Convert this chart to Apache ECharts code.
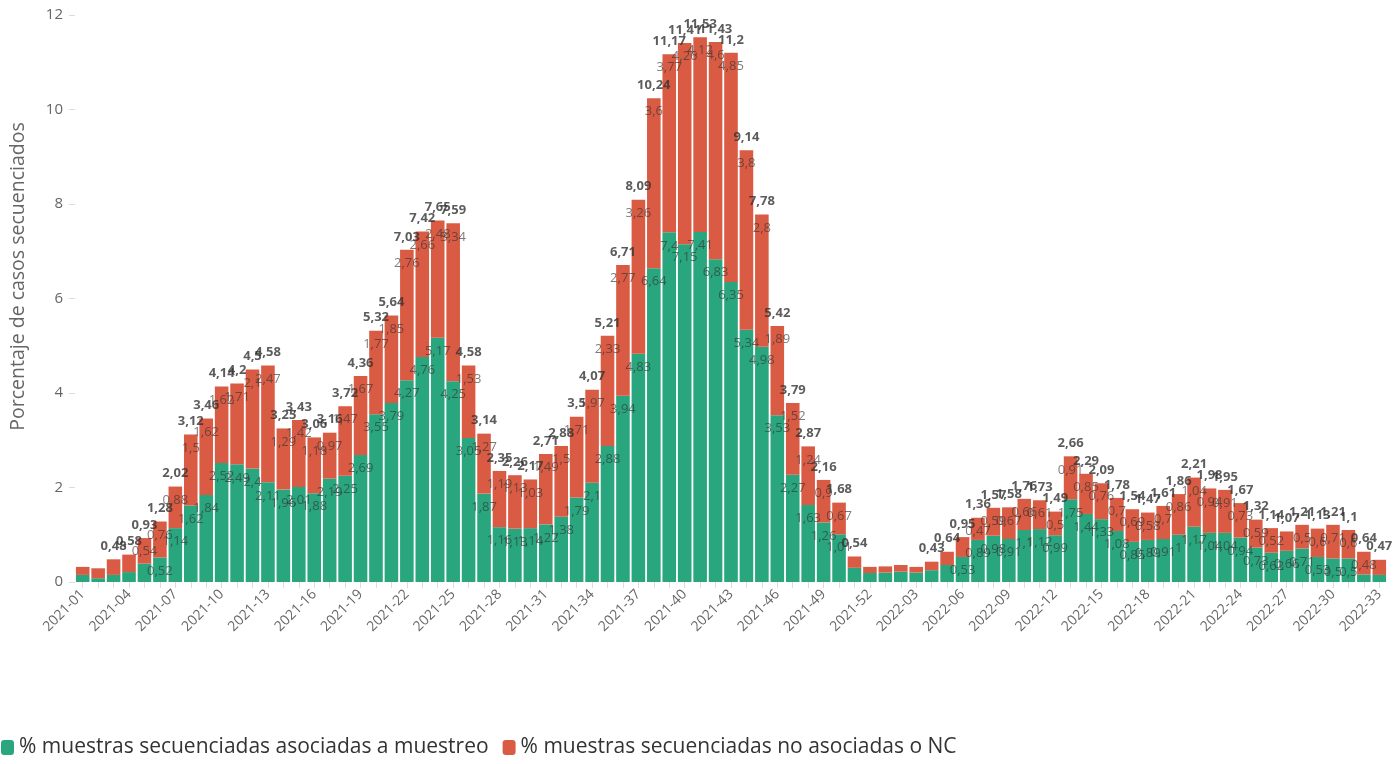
<!DOCTYPE html>
<html>
<head>
<meta charset="utf-8">
<script src="https://cdn.jsdelivr.net/npm/echarts@6/dist/echarts.min.js"></script>
<style>
html,body{margin:0;padding:0;background:#fff;}
#chart{width:1400px;height:764px;}
</style>
</head>
<body>
<div id="chart"></div>
<script>
// Weeks 2021-01 .. 2022-33
const weeks = [];
for (let w = 1; w <= 52; w++) weeks.push('2021-' + String(w).padStart(2, '0'));
for (let w = 1; w <= 33; w++) weeks.push('2022-' + String(w).padStart(2, '0'));

const seriesNames = ['% muestras secuenciadas asociadas a muestreo', '% muestras secuenciadas no asociadas o NC'];

const asociadas = [
  0.15, 0.08, 0.15, 0.21, 0.39, 0.52, 1.14, 1.62, 1.84, 2.52,
  2.49, 2.4, 2.11, 1.96, 2.01, 1.88, 2.19, 2.25, 2.69, 3.55,
  3.79, 4.27, 4.76, 5.17, 4.25, 3.05, 1.87, 1.16, 1.13, 1.14,
  1.22, 1.38, 1.79, 2.1, 2.88, 3.94, 4.83, 6.64, 7.4, 7.15,
  7.41, 6.83, 6.35, 5.34, 4.98, 3.53, 2.27, 1.63, 1.26, 1.01,
  0.30, 0.19, 0.20, 0.22, 0.20, 0.25, 0.36, 0.53, 0.89, 0.98,
  0.91, 1.1, 1.12, 0.99, 1.75, 1.44, 1.33, 1.08, 0.85, 0.89,
  0.91, 1, 1.17, 1.04, 1.04, 0.94, 0.73, 0.62, 0.66, 0.71,
  0.53, 0.5, 0.5, 0.16, 0.15
];

const noAsociadas = [
  0.17, 0.21, 0.33, 0.37, 0.54, 0.76, 0.88, 1.5, 1.62, 1.62,
  1.71, 2.1, 2.47, 1.29, 1.42, 1.18, 0.97, 1.47, 1.67, 1.77,
  1.85, 2.76, 2.66, 2.48, 3.34, 1.53, 1.27, 1.19, 1.13, 1.03,
  1.49, 1.5, 1.71, 1.97, 2.33, 2.77, 3.26, 3.6, 3.77, 4.26,
  4.12, 4.6, 4.85, 3.8, 2.8, 1.89, 1.52, 1.24, 0.9, 0.67,
  0.24, 0.13, 0.13, 0.14, 0.12, 0.18, 0.28, 0.42, 0.47, 0.59,
  0.67, 0.66, 0.61, 0.5, 0.91, 0.85, 0.76, 0.7, 0.69, 0.58,
  0.7, 0.86, 1.04, 0.94, 0.91, 0.73, 0.59, 0.52, 0.41, 0.5,
  0.6, 0.71, 0.6, 0.48, 0.32
];

const yTicks = [0, 2, 4, 6, 8, 10, 12];

function fmt(v) {
  return String(parseFloat(v.toFixed(2))).replace('.', ',');
}
const totals = asociadas.map((g, i) => parseFloat((g + noAsociadas[i]).toFixed(2)));

const FONT = 'Open Sans';
const innerLabel = {
  show: true,
  position: 'insideTop',
  distance: 7,
  color: 'rgba(55,55,55,0.66)',
  fontFamily: FONT,
  fontSize: 13,
  formatter: p => (p.value >= 0.45 ? fmt(p.value) : '')
};

const chart = echarts.init(document.getElementById('chart'), null, { renderer: 'canvas' });
chart.setOption({
  backgroundColor: '#ffffff',
  animation: false,
  textStyle: { fontFamily: FONT },
  grid: { left: 74, right: 13, top: 15, bottom: 182, containLabel: false },
  legend: {
    data: seriesNames,
    left: -4,
    bottom: 1,
    icon: 'roundRect',
    itemWidth: 13,
    itemHeight: 15,
    itemGap: 14,
    textStyle: { fontFamily: FONT, fontSize: 21, color: '#333' }
  },
  xAxis: {
    type: 'category',
    data: weeks,
    axisLine: { show: false },
    axisTick: { show: true, alignWithLabel: true, interval: 0, length: 6, lineStyle: { color: '#ddd' } },
    axisLabel: { interval: 2, rotate: 45, color: '#666', fontFamily: FONT, fontSize: 14, margin: 10 }
  },
  yAxis: {
    type: 'value',
    min: 0,
    max: yTicks[yTicks.length - 1],
    interval: 2,
    name: 'Porcentaje de casos secuenciados',
    nameLocation: 'middle',
    nameGap: 47,
    nameTextStyle: { color: '#666', fontFamily: FONT, fontSize: 19.5, padding: [0, 0, 0, 44] },
    axisLine: { show: false },
    axisTick: { show: true, length: 6, lineStyle: { color: '#ddd' } },
    splitLine: { show: false },
    axisLabel: { color: '#666', fontFamily: FONT, fontSize: 15, margin: 12 }
  },
  series: [
    {
      name: seriesNames[0],
      type: 'bar',
      stack: 'total',
      data: asociadas,
      barCategoryGap: '12%',
      itemStyle: { color: '#29a67d' },
      label: innerLabel
    },
    {
      name: seriesNames[1],
      type: 'bar',
      stack: 'total',
      data: noAsociadas,
      itemStyle: { color: '#d95b43' },
      label: innerLabel
    },
    {
      name: 'total',
      type: 'scatter',
      data: totals,
      symbolSize: 1,
      itemStyle: { color: 'rgba(0,0,0,0)' },
      label: {
        show: true,
        position: 'top',
        distance: 6,
        color: '#333',
        fontWeight: 'bold',
        fontFamily: FONT,
        fontSize: 13,
        formatter: p => (p.value >= 0.4 ? fmt(p.value) : '')
      },
      tooltip: { show: false }
    }
  ]
});
</script>
</body>
</html>
